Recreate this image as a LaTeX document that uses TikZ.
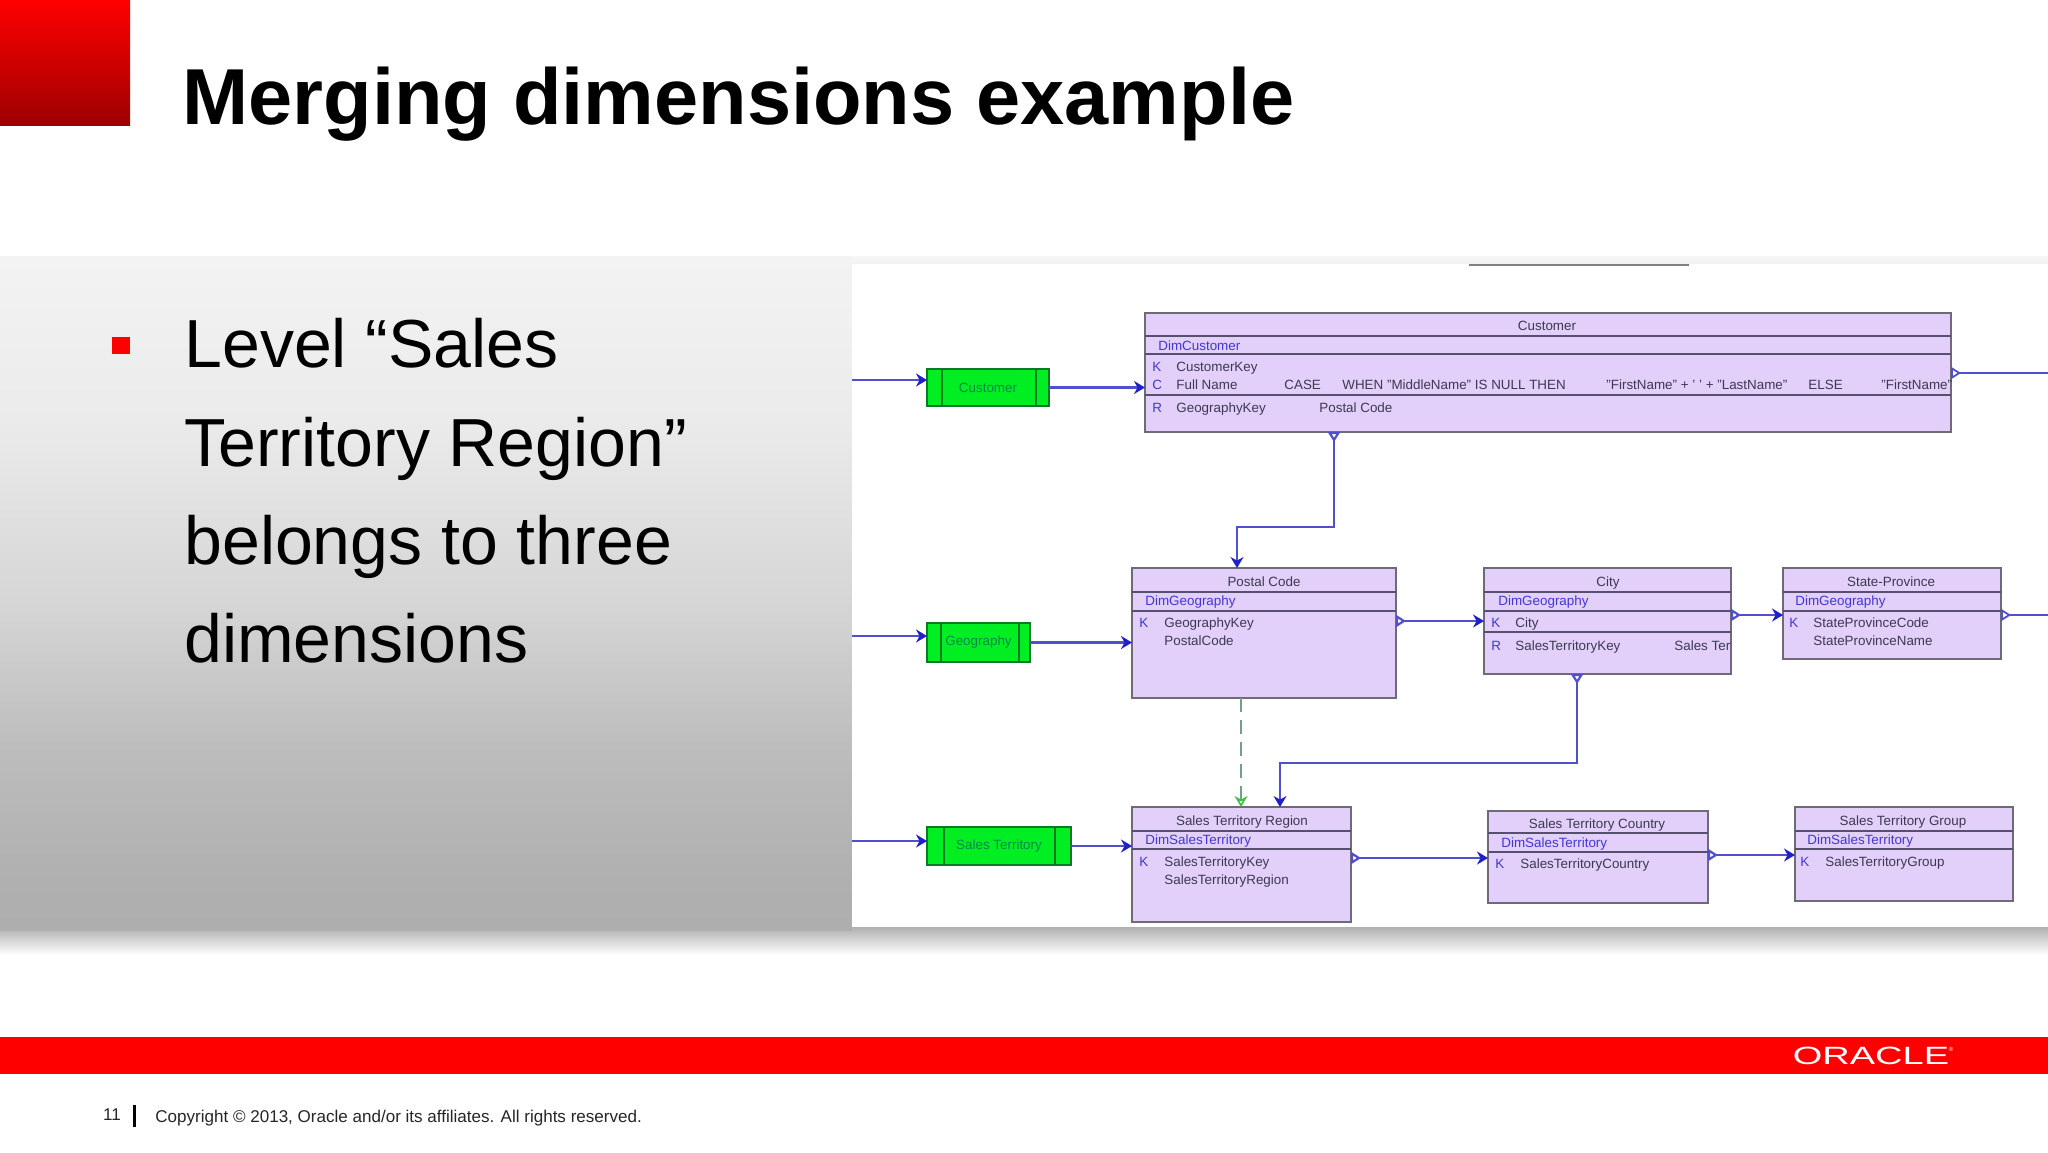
\documentclass[tikz,border=0pt]{standalone}
\usepackage{fontspec}
\setmainfont{Liberation Sans}
\usepackage{tikz}
\usetikzlibrary{arrows.meta}
\definecolor{orared}{HTML}{FF0000}
\definecolor{entfill}{HTML}{E2CFFA}
\definecolor{entline}{HTML}{6E6A78}
\definecolor{entsep}{HTML}{55506E}
\definecolor{reline}{HTML}{5050CC}
\definecolor{retip}{HTML}{2020C8}
\definecolor{grnfill}{HTML}{00EE22}
\definecolor{grnline}{HTML}{0B7A24}
\definecolor{grntext}{HTML}{068A48}
\definecolor{rowtext}{HTML}{3C3950}
\definecolor{dimtext}{HTML}{4238D0}
\definecolor{usetip}{HTML}{40C040}
\definecolor{useline}{HTML}{7C9C8A}
\definecolor{panela}{HTML}{F3F3F3}
\definecolor{panelb}{HTML}{EBEBEB}
\definecolor{panelc}{HTML}{D5D5D5}
\definecolor{paneld}{HTML}{BDBDBD}
\definecolor{panele}{HTML}{B0B0B0}
\definecolor{panelf}{HTML}{AEAEAE}
\def\entnode{\node[draw=entline,fill=entfill,line width=1.1pt,inner sep=0pt,outer sep=0pt,anchor=north west]}
\def\grnnode{\node[draw=grnline,fill=grnfill,line width=0.9pt,inner sep=0pt,outer sep=0pt,anchor=north west,text=grntext,font=\fontsize{6.7}{8}\selectfont]}
\def\rowlabel{\node[anchor=west,inner sep=0pt,text height=4.8pt,text depth=0pt,text=rowtext,font=\fontsize{6.7}{8}\selectfont]}
\def\dimlabel{\node[anchor=west,inner sep=0pt,text height=4.8pt,text depth=0pt,text=dimtext,font=\fontsize{6.7}{8}\selectfont]}
\def\headlabel{\node[inner sep=0pt,text height=4.8pt,text depth=0pt,text=rowtext,font=\fontsize{6.7}{8}\selectfont]}
\def\drawsep{\draw[color=entsep,line width=0.9pt]}
\def\drawrel{\draw[color=reline,line width=1.1pt,-{Stealth[length=5.5pt,width=6.5pt,color=retip]}]}
\def\drawfk{\draw[color=reline,line width=1.1pt,{Triangle[open,reversed,length=5pt,width=6pt]}-{Stealth[length=5.5pt,width=6.5pt,color=retip]}]}
\def\drawout{\draw[color=reline,line width=0.9pt,{Triangle[open,reversed,length=5pt,width=6pt]}-]}
\def\drawuse{\draw[color=useline,line width=0.8pt,dash pattern=on 7pt off 4pt,-{Stealth[open,length=5.5pt,width=6.5pt,color=usetip]}]}

\begin{document}
\begin{tikzpicture}[x=0.5pt,y=-0.5pt]
\useasboundingbox (0,0) rectangle (2048,1152);
\fill[white] (0,0) rectangle (2048,1152);
% slide furniture
\fill[top color=orared,bottom color=orared!62!black] (0,0) rectangle (130,125);
\node[anchor=base west,inner sep=0pt,font=\fontsize{39.7}{44}\selectfont\bfseries] (title) at (182,124) {Merging dimensions example};
\fill[bottom color=white,top color=black!32] (0,926) rectangle (2048,955);
\fill[top color=black!3,bottom color=black!6] (852,256) rectangle (2048,264);
\fill[top color=panela,bottom color=panelb] (0,256) rectangle (852,420);
\fill[top color=panelb,bottom color=panelc] (0,420) rectangle (852,607);
\fill[top color=panelc,bottom color=paneld] (0,607) rectangle (852,744);
\fill[top color=paneld,bottom color=panele] (0,744) rectangle (852,880);
\fill[top color=panele,bottom color=panelf] (0,880) rectangle (852,930);
\fill[white] (852,264) rectangle (2048,927);
\fill[orared] (112,337) rectangle (130,354);
\foreach \nm/\yy/\txt in {la/367/{Level “Sales},lb/466/{Territory Region”},lc/564/{belongs to three},ld/662/{dimensions}}
  \node[anchor=base west,inner sep=0pt,font=\fontsize{34}{40}\selectfont] (\nm) at (184,\yy) {\txt};
\fill[orared] (0,1037) rectangle (2048,1074);
\node[anchor=center,inner sep=0pt,text=white,font=\fontsize{12.5}{14}\selectfont,xscale=1.52] (logo) at (1871,1056) {ORACLE};
\node[inner sep=0pt,text=white,font=\fontsize{3}{4}\selectfont] (regmark) at (1951,1049) {®};
\node[inner sep=0pt,font=\fontsize{8.5}{10}\selectfont,text=black!85] (page) at (112,1115) {11};
\fill[black] (132.5,1105) rectangle (135.5,1127);
\node[anchor=west,inner sep=0pt,font=\fontsize{8.52}{10}\selectfont,text=black!85] (copy) at (155,1118) {Copyright © 2013, Oracle and/or its affiliates. All rights reserved.};
\draw[color=gray,line width=1.2pt] (1469,265) -- (1689,265);
% customer row
\grnnode[minimum width=61pt,minimum height=18.5pt] (gcust) at (927,369) {Customer};
\draw[color=grnline,line width=0.8pt] (942,369) -- (942,406) (1036,369) -- (1036,406);
\entnode[minimum width=403pt,minimum height=59.5pt] (customer) at (1145,313) {};
\foreach \y in {336,354,395} \drawsep (customer.west |- 0,\y) -- (customer.east |- 0,\y);
\headlabel (custh) at (1547,326) {Customer};
\dimlabel (custd) at (1158,346) {DimCustomer};
\dimlabel (custk) at (1152,367) {K};
\rowlabel (custa) at (1176,367) {CustomerKey};
\dimlabel (custc) at (1152,385) {C};
\rowlabel (custb) at (1176,385) {Full Name};
\rowlabel (custe) at (1284,385) {CASE};
\rowlabel (custf) at (1342,385) {WHEN "MiddleName" IS NULL THEN};
\rowlabel (custg) at (1606,385) {"FirstName" + ' ' + "LastName"};
\rowlabel (custi) at (1808,385) {ELSE};
\rowlabel (custj) at (1881,385) {"FirstName"};
\dimlabel (custr) at (1152,408) {R};
\rowlabel (custl) at (1176,408) {GeographyKey};
\rowlabel (custm) at (1319,408) {Postal Code};
% geography row
\grnnode[minimum width=51.5pt,minimum height=19.5pt] (ggeo) at (927,623) {Geography};
\draw[color=grnline,line width=0.8pt] (941,623) -- (941,662) (1019,623) -- (1019,662);
\entnode[minimum width=132pt,minimum height=65pt] (postal) at (1132,568) {};
\foreach \y in {592,611} \drawsep (postal.west |- 0,\y) -- (postal.east |- 0,\y);
\headlabel (posth) at (1264,582) {Postal Code};
\dimlabel (postd) at (1145,601) {DimGeography};
\dimlabel (postk) at (1139,623) {K};
\rowlabel (posta) at (1164,623) {GeographyKey};
\rowlabel (postb) at (1164,641) {PostalCode};
\entnode[minimum width=123.5pt,minimum height=53pt] (city) at (1484,568) {};
\foreach \y in {592,611,632} \drawsep (city.west |- 0,\y) -- (city.east |- 0,\y);
\headlabel (cityh) at (1608,582) {City};
\dimlabel (cityd) at (1498,601) {DimGeography};
\dimlabel (cityk) at (1491,623) {K};
\rowlabel (citya) at (1515,623) {City};
\dimlabel (cityr) at (1491,646) {R};
\rowlabel (cityb) at (1515,646) {SalesTerritoryKey};
\rowlabel (cityc) at (1674,646) {Sales Ter};
\entnode[minimum width=109pt,minimum height=45.5pt] (state) at (1783,568) {};
\foreach \y in {592,611} \drawsep (state.west |- 0,\y) -- (state.east |- 0,\y);
\headlabel (stath) at (1891,582) {State-Province};
\dimlabel (statd) at (1795,601) {DimGeography};
\dimlabel (statk) at (1789,623) {K};
\rowlabel (stata) at (1813,623) {StateProvinceCode};
\rowlabel (statb) at (1813,641) {StateProvinceName};
% sales territory row
\grnnode[minimum width=72pt,minimum height=19pt] (gsale) at (927,827) {Sales Territory};
\draw[color=grnline,line width=0.8pt] (944,827) -- (944,865) (1055,827) -- (1055,865);
\entnode[minimum width=109.5pt,minimum height=57.5pt] (region) at (1132,807) {};
\foreach \y in {831,849} \drawsep (region.west |- 0,\y) -- (region.east |- 0,\y);
\headlabel (regih) at (1242,821) {Sales Territory Region};
\dimlabel (regid) at (1145,840) {DimSalesTerritory};
\dimlabel (regik) at (1139,862) {K};
\rowlabel (regia) at (1164,862) {SalesTerritoryKey};
\rowlabel (regib) at (1164,880) {SalesTerritoryRegion};
\entnode[minimum width=110pt,minimum height=46pt] (country) at (1488,811) {};
\foreach \y in {833,852} \drawsep (country.west |- 0,\y) -- (country.east |- 0,\y);
\headlabel (counh) at (1597,824) {Sales Territory Country};
\dimlabel (cound) at (1501,843) {DimSalesTerritory};
\dimlabel (counk) at (1495,864) {K};
\rowlabel (couna) at (1520,864) {SalesTerritoryCountry};
\entnode[minimum width=109pt,minimum height=47pt] (group) at (1795,807) {};
\foreach \y in {831,849} \drawsep (group.west |- 0,\y) -- (group.east |- 0,\y);
\headlabel (grouh) at (1903,821) {Sales Territory Group};
\dimlabel (groud) at (1807,840) {DimSalesTerritory};
\dimlabel (grouk) at (1800,862) {K};
\rowlabel (groua) at (1825,862) {SalesTerritoryGroup};
% free ends at the picture's left and right edge
\coordinate (edgea) at (852,380);
\coordinate (edgeb) at (852,636);
\coordinate (edgec) at (852,841);
\coordinate (edged) at (2048,373);
\coordinate (edgee) at (2048,615);
% connectors
\drawrel (edgea) -- (edgea -| gcust.west);
\drawrel (edgeb) -- (edgeb -| ggeo.west);
\drawrel (edgec) -- (edgec -| gsale.west);
\drawrel (gcust.east) -- (gcust.east -| customer.west);
\drawrel (ggeo.east) -- (ggeo.east -| postal.west);
\drawrel (gsale.east) -- (gsale.east -| region.west);
\drawfk (customer.south -| 1334,0) -- (1334,527) -- (1237,527) -- (postal.north -| 1237,0);
\drawfk (city.south -| 1577,0) -- (1577,763) -- (1280,763) -- (region.north -| 1280,0);
\drawfk (postal.east |- 0,621) -- (city.west |- 0,621);
\drawfk (city.east |- 0,615) -- (state.west |- 0,615);
\drawfk (region.east |- 0,858) -- (country.west |- 0,858);
\drawfk (country.east |- 0,855) -- (group.west |- 0,855);
\drawout (customer.east |- edged) -- (edged);
\drawout (state.east |- edgee) -- (edgee);
\drawuse (postal.south -| 1241,0) -- (region.north -| 1241,0);
\end{tikzpicture}
\end{document}
